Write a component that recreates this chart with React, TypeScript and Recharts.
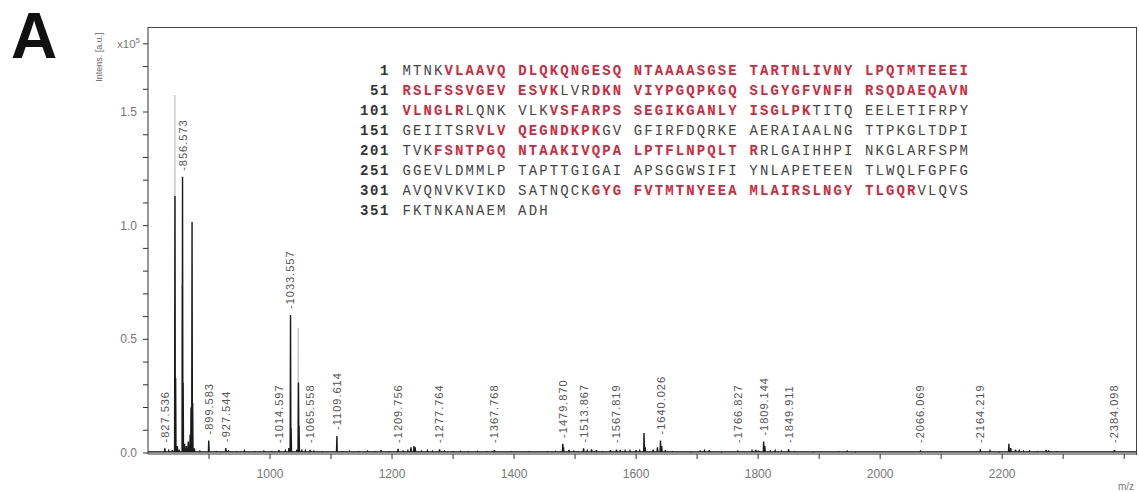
import React from 'react';
import { ComposedChart, Line, Scatter, XAxis, YAxis } from 'recharts';

// ---- data ----
const blackMz = [
  827.5, 834, 840, 844.2, 845.3, 848, 851, 856.6, 857.6, 860, 863, 866, 869, 870.5, 872.2, 873.2, 876, 885,
  899.6, 912, 927.5, 932, 945, 958, 975, 990, 1003, 1014.6, 1025, 1031, 1033.6, 1034.6, 1044, 1046.6, 1047.6,
  1052, 1058, 1065.6, 1072, 1085, 1096, 1109.6, 1118, 1130, 1145, 1160, 1172, 1182, 1195, 1209.8, 1218, 1226,
  1231, 1236, 1238, 1248, 1258, 1266, 1277.8, 1286, 1300, 1312, 1325, 1340, 1355, 1367.8, 1380, 1395, 1410,
  1425, 1440, 1455, 1468, 1479.9, 1481, 1490, 1498, 1513.9, 1520, 1527, 1535, 1545, 1558, 1567.8, 1574, 1582,
  1590, 1600, 1606, 1613, 1615, 1628, 1635, 1640, 1642, 1648, 1660, 1690, 1705, 1712, 1720, 1740, 1766.8,
  1790, 1796, 1800, 1809.1, 1811, 1820, 1828, 1838, 1849.9, 1860, 1875, 1890, 1905, 1920, 1932, 1946, 1960,
  2066, 2078, 2112, 2150, 2164.2, 2180, 2195, 2211, 2214, 2222, 2228, 2235, 2245, 2258, 2272, 2276, 2290, 2384.1,
];
const blackInt = [
  0.02, 0.01, 0.012, 1.13, 0.33, 0.03, 0.015, 1.215, 0.31, 0.04, 0.03, 0.05, 0.08, 0.2, 1.016, 0.22, 0.02, 0.008,
  0.055, 0.006, 0.022, 0.008, 0.006, 0.01, 0.006, 0.008, 0.006, 0.012, 0.01, 0.022, 0.607, 0.11, 0.015, 0.31, 0.12,
  0.015, 0.01, 0.014, 0.008, 0.006, 0.005, 0.075, 0.006, 0.008, 0.006, 0.008, 0.006, 0.012, 0.006, 0.018, 0.008, 0.01,
  0.025, 0.03, 0.025, 0.008, 0.01, 0.008, 0.016, 0.008, 0.006, 0.007, 0.006, 0.007, 0.006, 0.012, 0.005, 0.006, 0.005,
  0.006, 0.005, 0.006, 0.007, 0.04, 0.025, 0.014, 0.008, 0.02, 0.01, 0.016, 0.012, 0.006, 0.012, 0.015, 0.012, 0.01,
  0.01, 0.012, 0.01, 0.088, 0.025, 0.015, 0.025, 0.055, 0.03, 0.012, 0.006, 0.004, 0.008, 0.01, 0.012, 0.004, 0.008,
  0.01, 0.014, 0.008, 0.05, 0.03, 0.008, 0.01, 0.008, 0.016, 0.006, 0.005, 0.004, 0.005, 0.005, 0.006, 0.008, 0.004,
  0.008, 0.005, 0.005, 0.005, 0.016, 0.01, 0.004, 0.04, 0.022, 0.015, 0.01, 0.008, 0.008, 0.006, 0.012, 0.008, 0.006, 0.012,
];
const blackBase = 0.005;

const grayMz = [844.0, 855.4, 1046.4];
const grayInt = [1.575, 0.74, 0.55];

const labelMz = [
  827.536, 856.573, 899.583, 927.544, 1014.597, 1033.557, 1065.558, 1109.614, 1209.756, 1277.764, 1367.768,
  1479.87, 1513.867, 1567.819, 1640.026, 1766.827, 1809.144, 1849.911, 2066.069, 2164.219, 2384.098,
];
const labelPeak = [
  0.02, 1.215, 0.055, 0.022, 0.012, 0.607, 0.014, 0.075, 0.018, 0.016, 0.012,
  0.04, 0.02, 0.015, 0.055, 0.008, 0.05, 0.016, 0.008, 0.016, 0.012,
];
const labelText = [
  '827.536', '856.573', '899.583', '927.544', '1014.597', '1033.557', '1065.558', '1109.614', '1209.756',
  '1277.764', '1367.768', '1479.870', '1513.867', '1567.819', '1640.026', '1766.827', '1809.144', '1849.911',
  '2066.069', '2164.219', '2384.098',
];

const xTicks = [900, 1000, 1100, 1200, 1300, 1400, 1500, 1600, 1700, 1800, 1900, 2000, 2100, 2200, 2300, 2400];
const xTickLabels = [1000, 1200, 1400, 1600, 1800, 2000, 2200];
const yTicks = [0, 0.1, 0.2, 0.3, 0.4, 0.5, 0.6, 0.7, 0.8, 0.9, 1.0, 1.1, 1.2, 1.3, 1.4, 1.5, 1.6, 1.7, 1.8];
const yTickLabels = [0, 0.5, 1.0, 1.5];

// sequence rows: [start, segments of [text, highlighted]]
const seqStarts = [1, 51, 101, 151, 201, 251, 301, 351];
const seqRows: [string, boolean][][] = [
  [['MTNK', false], ['VLAAVQ DLQKQNGESQ NTAAAASGSE TARTNLIVNY LPQTMTEEEI', true]],
  [['RSLFSSVGEV ESVK', true], ['LVR', false], ['DKN VIYPGQPKGQ SLGYGFVNFH RSQDAEQAVN', true]],
  [['VLNGLR', true], ['LQNK VLK', false], ['VSFARPS SEGIKGANLY ISGLPK', true], ['TITQ EELETIFRPY', false]],
  [['GEIITSR', false], ['VLV QEGNDKPK', true], ['GV GFIRFDQRKE AERAIAALNG TTPKGLTDPI', false]],
  [['TVK', false], ['FSNTPGQ NTAAKIVQPA LPTFLNPQLT R', true], ['RLGAIHHPI NKGLARFSPM', false]],
  [['GGEVLDMMLP TAPTTGIGAI APSGGWSIFI YNLAPETEEN TLWQLFGPFG', false]],
  [['AVQNVKVIKD SATNQCK', false], ['GYG FVTMTNYEEA MLAIRSLNGY TLGQR', true], ['VLQVS', false]],
  [['FKTNKANAEM ADH', false]],
];

// ---- build tables ----
function buildSpectrum(mz: number[], ints: number[], base: number, half: number) {
  const idx = mz.map((_, i) => i).sort((a, b) => mz[a] - mz[b]);
  const pts: { mz: number; v: number }[] = [{ mz: 800, v: base }];
  idx.forEach((i) => {
    pts.push({ mz: mz[i] - half, v: base });
    pts.push({ mz: mz[i], v: ints[i] });
    pts.push({ mz: mz[i] + half, v: base });
  });
  pts.push({ mz: 2421, v: base });
  return pts;
}
const blackData = buildSpectrum(blackMz, blackInt, blackBase, 0.6);
const grayData = buildSpectrum(grayMz, grayInt, blackBase, 0.5);
const labelData = labelMz.map((m, i) => ({ mz: m, v: labelPeak[i], t: labelText[i] }));

const LabelShape = (p: any) => {
  const cx = p.cx;
  const y0 = Math.min(p.cy - 6, 443);
  return (
    <text
      x={cx}
      y={y0}
      transform={`rotate(-90 ${cx} ${y0})`}
      fontFamily="Liberation Sans, Arial, sans-serif"
      fontSize={11}
      letterSpacing={1}
      fill="#555"
      dominantBaseline="central"
      textAnchor="start"
    >
      {'-' + p.payload.t}
    </text>
  );
};

const YTick = (p: any) => {
  const v = Math.round(p.payload.value * 10) / 10;
  if (v === 1.8) {
    return (
      <text x={p.x - 1} y={p.y + 4} textAnchor="end" fontFamily="Liberation Sans, Arial, sans-serif" fontSize={11.5} fill="#777">
        x10<tspan fontSize={8} dy={-5}>5</tspan>
      </text>
    );
  }
  if (!yTickLabels.some((l) => Math.abs(l - v) < 1e-6)) return <g />;
  return (
    <text x={p.x - 4} y={p.y + 4} textAnchor="end" fontFamily="Liberation Sans, Arial, sans-serif" fontSize={12} fill="#777">
      {v.toFixed(1)}
    </text>
  );
};

const XTick = (p: any) => {
  const v = p.payload.value;
  if (!xTickLabels.includes(v)) return <g />;
  return (
    <text x={p.x} y={p.y + 17} textAnchor="middle" fontFamily="Liberation Sans, Arial, sans-serif" fontSize={12} fill="#777">
      {v}
    </text>
  );
};

const mono = '"Liberation Mono", "DejaVu Sans Mono", monospace';

export default function App() {
  return (
    <div style={{ position: 'absolute', left: 0, top: 0, width: 1139, height: 492, background: '#fff', overflow: 'hidden' }}>
      <div
        style={{
          position: 'absolute', left: 11, top: 4, fontFamily: '"Liberation Sans", Arial, sans-serif',
          fontWeight: 'bold', fontSize: 64, color: '#111', lineHeight: '64px',
        }}
      >
        A
      </div>
      <ComposedChart width={1139} height={492} margin={{ top: 27, right: 2, bottom: 0, left: 0 }}>
        <XAxis
          dataKey="mz"
          type="number"
          domain={[800, 2421]}
          ticks={xTicks}
          interval={0}
          allowDataOverflow
          height={38}
          tickSize={5}
          stroke="#333"
          tick={XTick}
        />
        <YAxis
          type="number"
          domain={[-0.0045, 1.874]}
          ticks={yTicks}
          interval={0}
          allowDataOverflow
          width={148}
          tickSize={5}
          stroke="#333"
          tick={YTick}
        />
        <Line data={grayData} dataKey="v" type="linear" stroke="#c4c4c4" strokeWidth={1.3} dot={false} activeDot={false} isAnimationActive={false} />
        <Line data={blackData} dataKey="v" type="linear" stroke="#1a1a1a" strokeWidth={1.4} dot={false} activeDot={false} isAnimationActive={false} />
        <Scatter data={labelData} dataKey="v" shape={LabelShape} isAnimationActive={false} />
      </ComposedChart>
      <div
        style={{
          position: 'absolute', left: 148, top: 27, width: 988, height: 427,
          borderTop: '1px solid #444', borderRight: '1px solid #444', pointerEvents: 'none',
        }}
      />
      <div
        style={{
          position: 'absolute', left: 99, top: 57, transform: 'translate(-50%, -50%) rotate(-90deg)',
          fontFamily: '"Liberation Sans", Arial, sans-serif', fontSize: 9, color: '#666', whiteSpace: 'nowrap',
        }}
      >
        Intens. [a.u.]
      </div>
      <div
        style={{
          position: 'absolute', left: 1118, top: 481, fontFamily: '"Liberation Sans", Arial, sans-serif',
          fontSize: 10, color: '#777',
        }}
      >
        m/z
      </div>
      <div style={{ position: 'absolute', left: 330, top: 61, whiteSpace: 'pre' }}>
        {seqRows.map((row, r) => (
          <div key={r} style={{ display: 'flex', height: 20, lineHeight: '20px' }}>
            <span
              style={{
                width: 60, textAlign: 'right', fontFamily: mono, fontWeight: 'bold', fontSize: 14,
                letterSpacing: 1.6, color: '#333', marginRight: 12.5,
              }}
            >
              {seqStarts[r]}
            </span>
            <span style={{ fontFamily: mono, fontSize: 14, letterSpacing: 2.11 }}>
              {row.map(([txt, hi], k) => (
                <span key={k} style={{ color: hi ? '#d1283d' : '#444', fontWeight: hi ? 'bold' : 'normal' }}>
                  {txt}
                </span>
              ))}
            </span>
          </div>
        ))}
      </div>
    </div>
  );
}
